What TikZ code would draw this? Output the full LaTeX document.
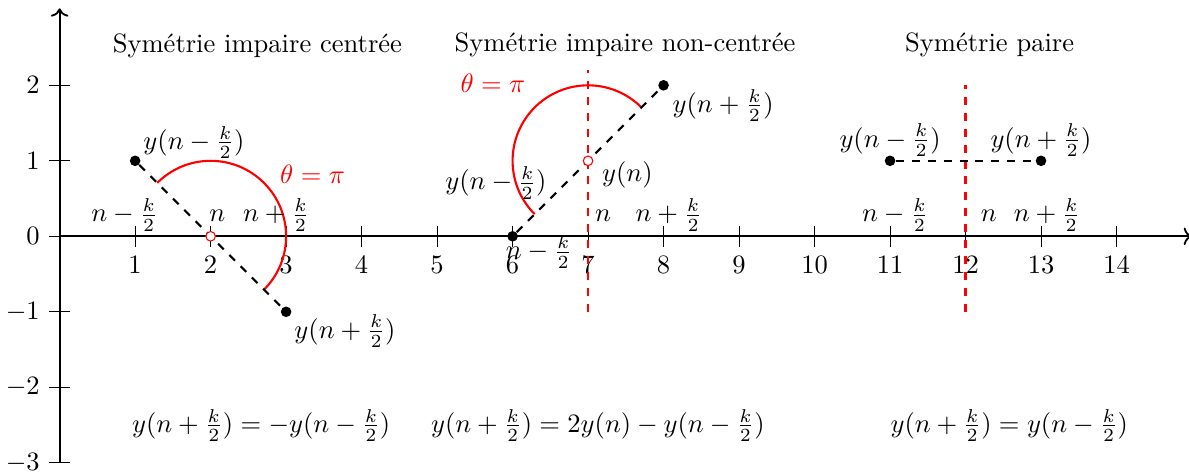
\documentclass[tikz,border=0pt]{standalone}
\usepackage{amsmath, amssymb}
\usetikzlibrary{positioning,arrows.meta}

\tikzset{
  dot/.style={circle, fill=black, inner sep=0pt, minimum size=4pt},
  hole/.style={circle, draw=red, fill=white, inner sep=0pt, minimum size=3.6pt, line width=0.4pt},
  link/.style={dashed, line width=0.8pt},
  axe/.style={red, dashed, line width=0.8pt},
  rot/.style={red, line width=0.8pt},
  lab/.style={anchor=base}
}

\begin{document}
\begin{tikzpicture}[x=1cm,y=1cm]
      \useasboundingbox (-0.79,-3.12) rectangle (14.96,3.13);

      % axes
      \draw[->, line width=0.7pt] (0,0) -- (15,0);
      \draw[->, line width=0.7pt] (0,-3) -- (0,3.02);
      \foreach \x in {1,...,14}
        \draw (\x,0.14) -- (\x,-0.14) node[below] {$\x$};
      \foreach \y in {-3,...,2}
        \draw (0.14,\y) -- (-0.14,\y) node[left] {$\y$};

      % symetrie impaire centree
      \node[lab] (t1) at (2.62,2.44) {Symétrie impaire centrée};
      \coordinate (c1) at (2,0);
      \draw[rot] (c1) ++(135:1) arc[start angle=135, end angle=-45, radius=1];
      \node[dot] (a1) at (1,1) {};
      \node[dot] (b1) at (3,-1) {};
      \draw[link] (a1) -- (b1);
      \node[hole] (o1) at (c1) {};
      \node[lab] (la1) at (1.78,1.15) {$y(n-\frac{k}{2})$};
      \node[lab] (lb1) at (3.78,-1.35) {$y(n+\frac{k}{2})$};
      \node[lab, red] (th1) at (3.35,0.70) {$\theta=\pi$};
      \node[lab] (xa1) at (0.86,0.19) {$n-\frac{k}{2}$};
      \node[lab] (xb1) at (2.09,0.19) {$n$};
      \node[lab] (xc1) at (2.87,0.19) {$n+\frac{k}{2}$};
      \node[lab] (eq1) at (2.67,-2.60) {$y(n+\frac{k}{2})=-y(n-\frac{k}{2})$};

      % symetrie impaire non-centree
      \node[lab] (t2) at (7.49,2.45) {Symétrie impaire non-centrée};
      \coordinate (c2) at (7,1);
      \coordinate (v2a) at (7,-1);
      \coordinate (v2b) at (7,2.2);
      \draw[axe] (v2a) -- (v2b);
      \draw[rot] (c2) ++(45:1) arc[start angle=45, end angle=225, radius=1];
      \node[dot] (a2) at (6,0) {};
      \node[dot] (b2) at (8,2) {};
      \draw[link] (a2) -- (b2);
      \node[hole] (o2) at (c2) {};
      \node[lab] (la2) at (5.78,0.615) {$y(n-\frac{k}{2})$};
      \node[lab] (lb2) at (8.79,1.64) {$y(n+\frac{k}{2})$};
      \node[lab] (lc2) at (7.52,0.725) {$y(n)$};
      \node[lab, red] (th2) at (5.74,1.905) {$\theta=\pi$};
      \node[lab] (xa2) at (6.35,-0.30) {$n-\frac{k}{2}$};
      \node[lab] (xb2) at (7.20,0.19) {$n$};
      \node[lab] (xc2) at (8.07,0.19) {$n+\frac{k}{2}$};
      \node[lab] (eq2) at (7.13,-2.60) {$y(n+\frac{k}{2})=2y(n)-y(n-\frac{k}{2})$};

      % symetrie paire
      \node[lab] (t3) at (12.32,2.45) {Symétrie paire};
      \coordinate (v3a) at (12,-1);
      \coordinate (v3b) at (12,2);
      \draw[axe] (v3a) -- (v3b);
      \node[dot] (a3) at (11,1) {};
      \node[dot] (b3) at (13,1) {};
      \draw[link] (a3) -- (b3);
      \node[lab] (la3) at (11.0,1.18) {$y(n-\frac{k}{2})$};
      \node[lab] (lb3) at (13.0,1.18) {$y(n+\frac{k}{2})$};
      \node[lab] (xa3) at (11.07,0.19) {$n-\frac{k}{2}$};
      \node[lab] (xb3) at (12.31,0.19) {$n$};
      \node[lab] (xc3) at (13.08,0.19) {$n+\frac{k}{2}$};
      \node[lab] (eq3) at (12.58,-2.60) {$y(n+\frac{k}{2})=y(n-\frac{k}{2})$};
    \end{tikzpicture}
\end{document}
